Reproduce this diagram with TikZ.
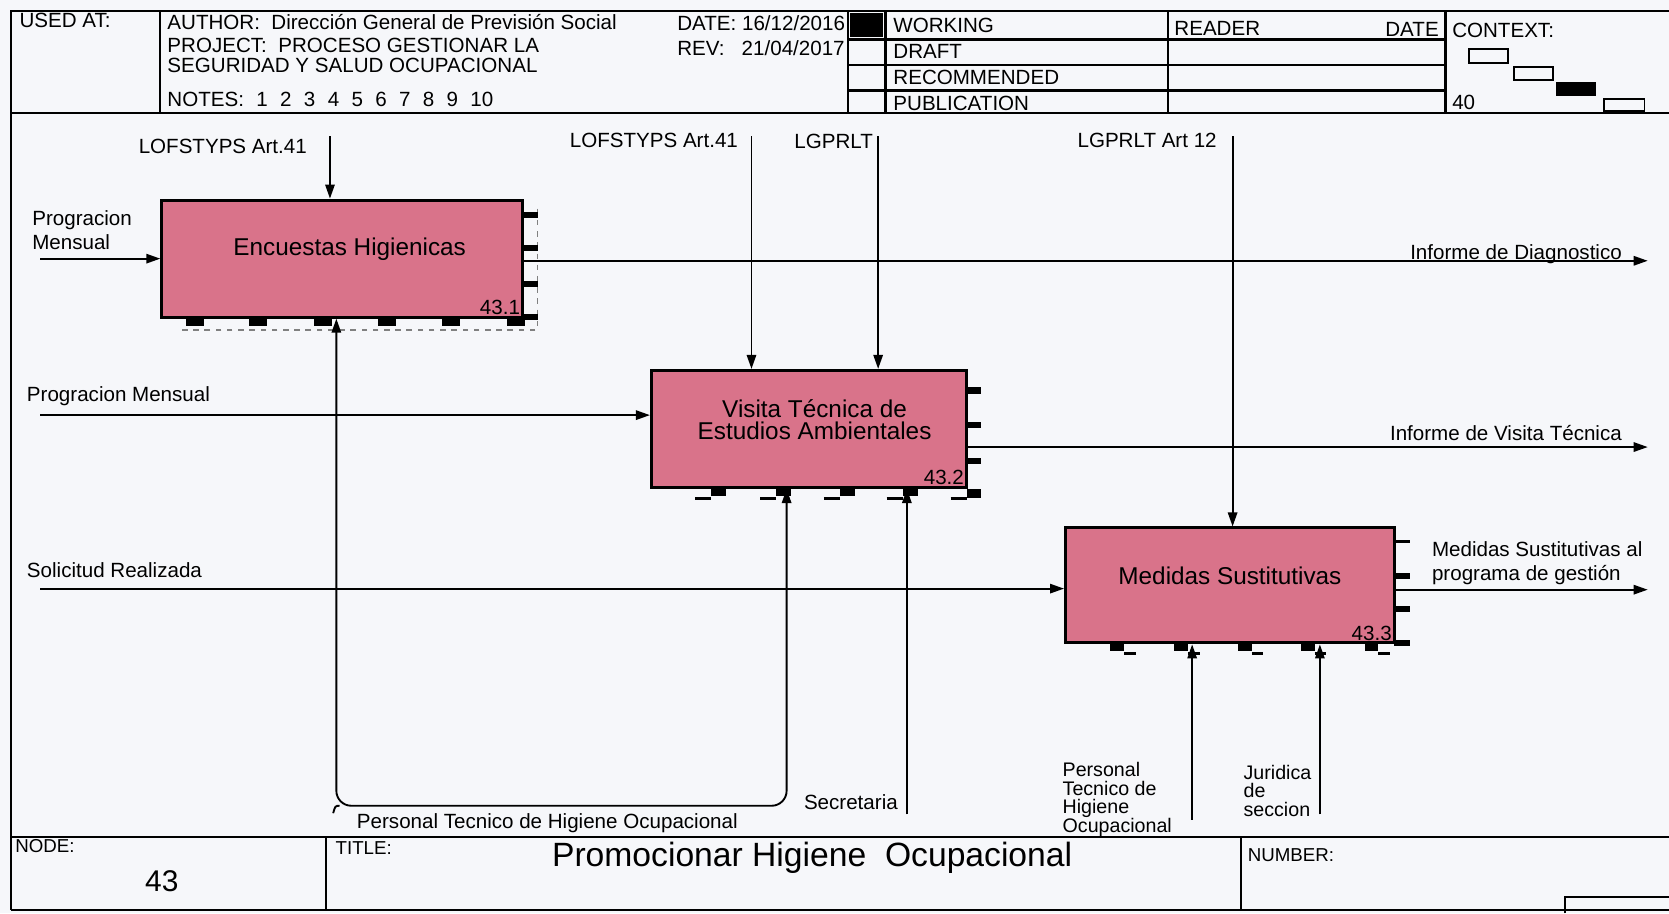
\documentclass[tikz,border=0pt]{standalone}
\usepackage{fontspec}
\setmainfont{Liberation Sans}
\usetikzlibrary{arrows.meta}

\definecolor{boxpink}{RGB}{217,115,138}
\definecolor{paper}{RGB}{246,247,250}

\begin{document}
\begin{tikzpicture}[x=0.02cm, y=-0.02cm,
    act/.style={draw, line width=1.6pt, fill=boxpink, inner sep=0pt},
    acttext/.style={inner sep=0pt, align=center, font=\fontsize{13}{12}\selectfont},
    num/.style={anchor=south east, inner sep=2pt, font=\fontsize{11}{12}\selectfont},
    lbl/.style={anchor=west, inner sep=0pt, align=left, font=\fontsize{11}{13}\selectfont},
    hdr/.style={anchor=west, inner sep=0pt, font=\fontsize{11}{13}\selectfont},
    small/.style={anchor=west, inner sep=0pt, font=\fontsize{10}{12}\selectfont},
    arr/.style={line width=1pt, -{Triangle[length=7.5pt,width=5pt]}},
    frm/.style={line width=1.2pt},
    tab/.style={fill=black}]

    \useasboundingbox (0,0) rectangle (1568,858);
    \fill[paper] (0,0) rectangle (1568,858);

    % form frame
    \draw[frm] (10,855) -- (10,10) -- (1568,10);
    \draw[frm] (10,106) -- (1568,106);
    \draw[frm] (10,786) -- (1568,786);
    \draw[frm] (10,855) -- (1568,855);
    \draw[frm] (150,10) -- (150,106);
    \draw[frm] (797,10) -- (797,106);
    \draw[frm] (832,10) -- (832,106);
    \draw[frm] (1097,10) -- (1097,106);
    \draw[frm] (1358,10) -- (1358,106);
    \foreach \y in {37,61,85}
        \draw[frm] (797,\y) -- (1358,\y);
    \draw[frm] (306,786) -- (306,855);
    \draw[frm] (1166,786) -- (1166,855);
    \draw[frm] (1470,858) -- (1470,843) -- (1568,843);
    \fill (799,12) rectangle (830,35);

    % header texts
    \node[hdr] (used) at (18,19) {USED AT:};
    \node[hdr] (author) at (157,21) {AUTHOR:\ \ Dirección General de Previsión Social};
    \node[hdr] (project) at (157,43) {PROJECT:\ \ PROCESO GESTIONAR LA};
    \node[hdr] (project2) at (157,61) {SEGURIDAD Y SALUD OCUPACIONAL};
    \node[hdr] (notes) at (157,93) {NOTES:\hspace{.6em}1\hspace{.6em}2\hspace{.6em}3\hspace{.6em}4\hspace{.6em}5\hspace{.6em}6\hspace{.6em}7\hspace{.6em}8\hspace{.6em}9\hspace{.6em}10};
    \node[hdr] (date) at (636,22) {DATE: 16/12/2016};
    \node[hdr] (rev) at (636,45) {REV:\ \ \ 21/04/2017};
    \node[hdr] (working) at (839,24) {WORKING};
    \node[hdr] (draft) at (839,48) {DRAFT};
    \node[hdr] (recom) at (839,73) {RECOMMENDED};
    \node[hdr] (public) at (839,97) {PUBLICATION};
    \node[hdr] (reader) at (1103,27) {READER};
    \node[hdr, anchor=east] (rdate) at (1352,28) {DATE};
    \node[hdr] (context) at (1364,29) {CONTEXT:};
    \node[hdr] (cnum) at (1364,96) {40};
    \draw[line width=1pt] (1380,46) rectangle (1417,59);
    \draw[line width=1pt] (1422,63) rectangle (1459,75);
    \fill (1462,77) rectangle (1499,90);
    \draw[line width=1pt] (1507,93) rectangle (1545,104);

    % activities
    \node[act, minimum width=6.78cm, minimum height=2.2cm] (enc) at (321.5,243) {};
    \node[act, minimum width=5.92cm, minimum height=2.2cm] (vis) at (760,403) {};
    \node[act, minimum width=6.18cm, minimum height=2.16cm] (med) at (1155.5,550) {};
    \node[acttext] (enc-t) at ([xshift=4pt, yshift=5pt]enc.center) {Encuestas Higienicas};
    \node[acttext] (vis-t) at ([xshift=3pt, yshift=5pt]vis.center) {Visita Técnica de\\Estudios Ambientales};
    \node[acttext] (med-t) at ([yshift=5pt]med.center) {Medidas Sustitutivas};
    \node[num] (enc-n) at (enc.south east) {43.1};
    \node[num] (vis-n) at (vis.south east) {43.2};
    \node[num] (med-n) at (med.south east) {43.3};

    % port marks
    \draw[dashed, line width=.6pt, gray] (505,196) -- (505,310) -- (170,310);
    \foreach \y in {202,233,267,298}
        \fill[tab] (491,\y-3) rectangle (505,\y+3);
    \foreach \x in {175,234,295,355,415,476}
        \fill[tab] (\x,299) rectangle (\x+17,306);
    \foreach \y in {367,399,433,465}
        \fill[tab] (908,\y-3) rectangle (922,\y+3);
    \foreach \x in {668,729,789,848,908} {
        \fill[tab] (\x,459) rectangle (\x+14,466);
        \draw[line width=1.5pt] (\x-15,468) -- (\x,468);
    }
    \fill[tab] (1310,507) rectangle (1325,510);
    \foreach \y in {541,572,604}
        \fill[tab] (1310,\y-3) rectangle (1325,\y+3);
    \foreach \x in {1043,1103,1163,1222,1282} {
        \fill[tab] (\x,605) rectangle (\x+13,612);
        \draw[line width=1.5pt] (\x+13,614) -- (\x+24,614);
    }

    % inputs
    \coordinate (in1) at (38,243);
    \coordinate (in2) at (38,390);
    \coordinate (in3) at (38,553);
    \draw[arr] (in1) -- (in1 -| enc.west);
    \draw[arr] (in2) -- (in2 -| vis.west);
    \draw[arr] (in3) -- (in3 -| med.west);
    \node[lbl] (prog1) at (30,216) {Progracion\\Mensual};
    \node[lbl] (prog2) at (25,372) {Progracion Mensual};
    \node[lbl] (soli) at (25,536) {Solicitud Realizada};

    % controls
    \coordinate (ctl1) at (310,128);
    \coordinate (ctl2) at (706,128);
    \coordinate (ctl3) at (825,128);
    \coordinate (ctl4) at (1158,128);
    \draw[arr] (ctl1) -- (ctl1 |- enc.north);
    \draw[arr] (ctl2) -- (ctl2 |- vis.north);
    \draw[arr] (ctl3) -- (ctl3 |- vis.north);
    \draw[arr] (ctl4) -- (ctl4 |- med.north);
    \node[lbl] (lofs1) at (130,138) {LOFSTYPS Art.41};
    \node[lbl] (lofs2) at (535,132) {LOFSTYPS Art.41};
    \node[lbl] (lgp) at (746,133) {LGPRLT};
    \node[lbl] (lgp12) at (1012,132) {LGPRLT Art 12};

    % outputs
    \coordinate (out1) at (1548,245);
    \coordinate (out2) at (1548,420);
    \coordinate (out3) at (1548,554);
    \draw[arr] (out1 -| enc.east) -- (out1);
    \draw[arr] (out2 -| vis.east) -- (out2);
    \draw[arr] (out3 -| med.east) -- (out3);
    \node[lbl, anchor=east] (diag) at (1524,239) {Informe de Diagnostico};
    \node[lbl, anchor=east] (vtec) at (1524,407) {Informe de Visita Técnica};
    \node[lbl] (msus) at (1345,529) {Medidas Sustitutivas al\\programa de gestión};

    % mechanisms
    \coordinate (mec1) at (316,757);
    \coordinate (mec2) at (739,757);
    \coordinate (mec3) at (852,765);
    \coordinate (mec4) at (1120,770);
    \coordinate (mec5) at (1240,765);
    \draw[line width=1pt, {Triangle[length=7.5pt,width=5pt]}-{Triangle[length=7.5pt,width=5pt]}, rounded corners=8]
        (enc.south -| mec1) -- (mec1) -- (mec2) -- (vis.south -| mec2);
    \draw[line width=1pt] (mec1) ++(3,0) .. controls +(-4,0) .. +(-6,7);
    \draw[arr] (mec3) -- (mec3 |- vis.south);
    \draw[arr] (mec4) -- (mec4 |- med.south);
    \draw[arr] (mec5) -- (mec5 |- med.south);
    \node[lbl] (pers1) at (335,773) {Personal Tecnico de Higiene Ocupacional};
    \node[lbl] (secr) at (755,754) {Secretaria};
    \node[small, align=left, font=\fontsize{10.5}{10}\selectfont] (pers2) at (998,751) {Personal\\Tecnico de\\Higiene\\Ocupacional};
    \node[small, align=left, font=\fontsize{10.5}{10}\selectfont] (jur) at (1168,743) {Juridica\\de\\seccion};

    % footer texts
    \node[small] (nodelbl) at (14,795) {NODE:};
    \node[inner sep=0pt, font=\fontsize{16}{18}\selectfont] (nodenum) at (152,828) {43};
    \node[small] (titlelbl) at (315,797) {TITLE:};
    \node[inner sep=0pt, font=\fontsize{18}{20}\selectfont] (title) at (763,806) {Promocionar Higiene\ \ Ocupacional};
    \node[small] (numlbl) at (1172,803) {NUMBER:};
\end{tikzpicture}
\end{document}
